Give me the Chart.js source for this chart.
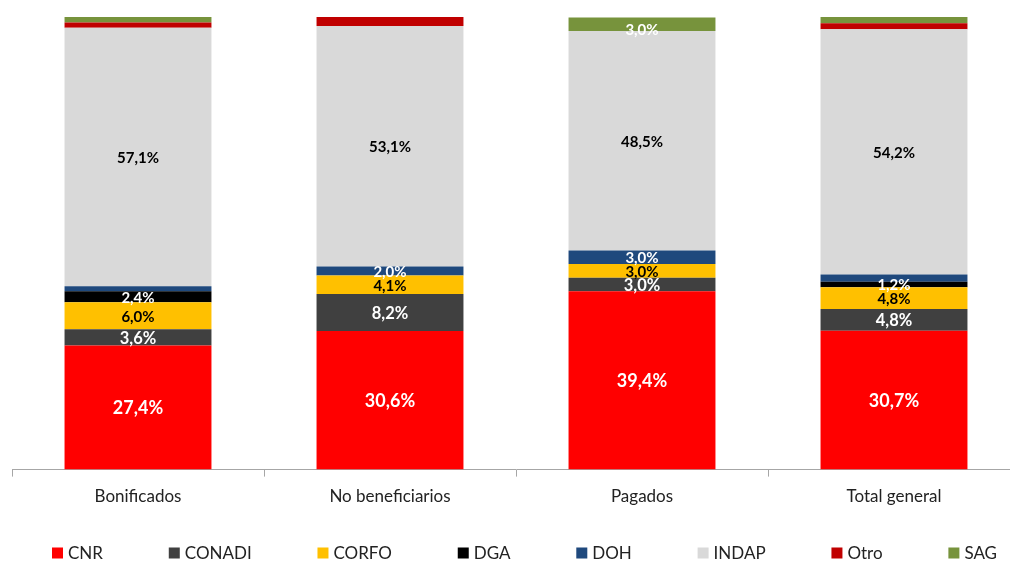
<!DOCTYPE html>
<html>
<head>
<meta charset="utf-8">
<script src="https://cdn.jsdelivr.net/npm/chart.js@4"></script>
<style>
html,body{margin:0;padding:0;background:#fff;overflow:hidden;width:1010px;height:564px;}
canvas{display:block;}
</style>
</head>
<body>
<canvas id="c" width="1020" height="564"></canvas>
<script>
// ---- data ----
const categories = ["Bonificados", "No beneficiarios", "Pagados", "Total general"];
const seriesNames = ["CNR", "CONADI", "CORFO", "DGA", "DOH", "INDAP", "Otro", "SAG"];
const CNR    = [27.4, 30.6, 39.4, 30.7];
const CONADI = [3.6, 8.2, 3.0, 4.8];
const CORFO  = [6.0, 4.1, 3.0, 4.8];
const DGA    = [2.4, 0, 0, 1.2];
const DOH    = [1.1, 2.0, 3.0, 1.6];
const INDAP  = [57.1, 53.1, 48.5, 54.2];
const Otro   = [1.2, 2.0, 0, 1.3];
const SAG    = [1.2, 0, 3.0, 1.4];
// which data labels are visible (1 = shown)
const showCNR    = [1, 1, 1, 1];
const showCONADI = [1, 1, 1, 1];
const showCORFO  = [1, 1, 1, 1];
const showDGA    = [1, 0, 0, 1];
const showDOH    = [0, 1, 1, 0];
const showINDAP  = [1, 1, 1, 1];
const showOtro   = [0, 0, 0, 0];
const showSAG    = [0, 0, 1, 0];

// ---- styles ----
const colors = ["#FF0000", "#404040", "#FFC000", "#000000", "#1F497D", "#D9D9D9", "#C00000", "#77933C"];
const labelColors = ["#FFFFFF", "#FFFFFF", "#000000", "#FFFFFF", "#FFFFFF", "#000000", "#FFFFFF", "#FFFFFF"];
const labelSizes = [18, 16.5, 15, 15, 15, 15, 15, 15];
const values = [CNR, CONADI, CORFO, DGA, DOH, INDAP, Otro, SAG];
const shows = [showCNR, showCONADI, showCORFO, showDGA, showDOH, showINDAP, showOtro, showSAG];

const datasets = seriesNames.map((n, i) => ({
  label: n,
  data: values[i],
  backgroundColor: colors[i],
  borderWidth: 0,
  barPercentage: 0.583,
  categoryPercentage: 1.0,
  _show: shows[i],
  _labelColor: labelColors[i],
  _labelSize: labelSizes[i]
}));

const fmt = v => v.toFixed(1).replace('.', ',') + '%';

const labelPlugin = {
  id: 'segLabels',
  afterDatasetsDraw(chart) {
    const ctx = chart.ctx;
    ctx.save();
    ctx.textAlign = 'center';
    ctx.textBaseline = 'middle';
    chart.data.datasets.forEach((ds, di) => {
      const meta = chart.getDatasetMeta(di);
      ctx.font = 'bold ' + ds._labelSize + 'px Lato';
      meta.data.forEach((el, j) => {
        if (!ds._show[j] || !ds.data[j]) return;
        let y = (el.y + el.base) / 2 + 1;
        y = Math.max(y, chart.chartArea.top + 13);
        ctx.fillStyle = ds._labelColor;
        ctx.fillText(fmt(ds.data[j]), el.x, y);
      });
    });
    ctx.restore();
  }
};

const legendPlugin = {
  id: 'bottomLegend',
  afterDraw(chart) {
    const ctx = chart.ctx;
    ctx.save();
    ctx.font = '17px Lato';
    ctx.textBaseline = 'middle';
    const box = 11, gapText = 5;
    const ds = chart.data.datasets;
    const widths = ds.map(d => box + gapText + ctx.measureText(d.label).width);
    const startX = 52, endX = 997, yC = 553;
    const total = widths.reduce((a, b) => a + b, 0);
    const gap = (endX - startX - total) / (ds.length - 1);
    let x = startX;
    ds.forEach((d, i) => {
      ctx.fillStyle = d.backgroundColor;
      ctx.fillRect(x, yC - box / 2, box, box);
      ctx.fillStyle = '#222';
      ctx.fillText(d.label, x + box + gapText, yC + 1);
      x += widths[i] + gap;
    });
    ctx.restore();
  }
};

new Chart(document.getElementById('c'), {
  type: 'bar',
  data: { labels: categories, datasets },
  options: {
    responsive: false,
    animation: false,
    devicePixelRatio: 1,
    layout: { padding: { left: 12, top: 17, right: 0, bottom: 47 } },
    plugins: { legend: { display: false }, tooltip: { enabled: false } },
    scales: {
      x: {
        stacked: true,
        grid: { display: true, drawOnChartArea: false, drawTicks: true, tickLength: 7, color: '#A6A6A6', offset: true },
        border: { display: true, color: '#A6A6A6', width: 1 },
        ticks: { font: { family: 'Lato', size: 17 }, color: '#222', padding: 10, maxRotation: 0 }
      },
      y: { stacked: true, display: false, min: 0, max: 100 }
    }
  },
  plugins: [labelPlugin, legendPlugin]
});
</script>
</body>
</html>
